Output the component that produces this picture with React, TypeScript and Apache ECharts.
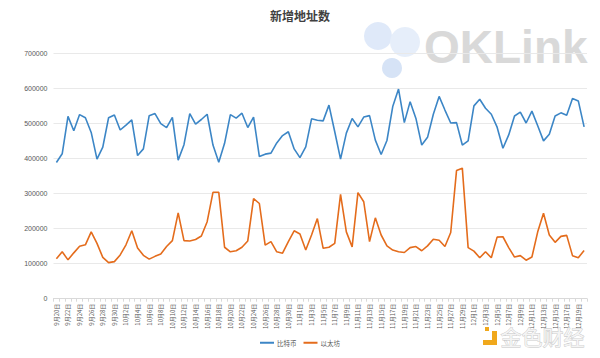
import React, { useEffect, useRef } from "react";
import * as echarts from "echarts";

const titleText = "新增地址数";
const seriesNames = ["比特币", "以太坊"];
const startMonth = 9;
const startDay = 20;
const dayCount = 92;

const btcValues = [
  389000, 414000, 521000, 480000, 526000, 517000, 475000, 399000, 433000, 517000,
  525000, 482000, 496000, 511000, 409000, 428000, 523000, 529000, 500000, 489000,
  518000, 396000, 440000, 529000, 499000, 512000, 527000, 439000, 390000, 444000,
  526000, 516000, 530000, 489000, 519000, 406000, 413000, 416000, 445000, 466000,
  477000, 428000, 403000, 434000, 514000, 510000, 508000, 553000, 477000, 399000,
  473000, 515000, 491000, 519000, 523000, 453000, 412000, 452000, 549000, 599000,
  503000, 563000, 515000, 439000, 461000, 527000, 578000, 539000, 502000, 503000,
  439000, 451000, 551000, 570000, 544000, 527000, 490000, 430000, 468000, 522000,
  533000, 502000, 536000, 494000, 451000, 470000, 522000, 531000, 524000, 572000,
  565000, 491000,
];

const ethValues = [
  114000, 134000, 111000, 131000, 150000, 154000, 191000, 158000, 118000, 103000,
  106000, 125000, 154000, 194000, 145000, 124000, 113000, 121000, 128000, 149000,
  166000, 245000, 166000, 165000, 169000, 179000, 220000, 304000, 304000, 147000,
  134000, 137000, 147000, 165000, 286000, 272000, 153000, 163000, 134000, 130000,
  163000, 194000, 185000, 139000, 182000, 229000, 144000, 147000, 158000, 298000,
  191000, 148000, 303000, 277000, 163000, 231000, 182000, 151000, 139000, 134000,
  132000, 146000, 149000, 137000, 151000, 170000, 167000, 149000, 189000, 366000,
  373000, 146000, 136000, 117000, 134000, 117000, 176000, 177000, 146000, 119000,
  123000, 110000, 119000, 191000, 244000, 182000, 161000, 178000, 181000, 123000,
  117000, 138000,
];

const yTicks = [0, 100000, 200000, 300000, 400000, 500000, 600000, 700000];

function buildDates(): string[] {
  const out: string[] = [];
  const d = new Date(2017, startMonth - 1, startDay);
  for (let i = 0; i < dayCount; i++) {
    out.push(`${d.getMonth() + 1}月${d.getDate()}日`);
    d.setDate(d.getDate() + 1);
  }
  return out;
}
const categories = buildDates();

const FONT = "'Liberation Sans', 'Noto Sans CJK SC', sans-serif";

export default function App() {
  const ref = useRef<HTMLDivElement>(null);
  useEffect(() => {
    if (!ref.current) return;
    const chart = echarts.init(ref.current, null, { renderer: "svg" });
    chart.setOption({
      animation: false,
      backgroundColor: "#ffffff",
      textStyle: { fontFamily: FONT },
      title: {
        text: titleText,
        left: "center",
        top: 4,
        textStyle: { fontSize: 12, fontWeight: "bold", color: "#404040", fontFamily: "'Noto Sans CJK SC', sans-serif" },
      },
      graphic: [
        { type: "circle", shape: { cx: 378, cy: 36, r: 14 }, style: { fill: "#dfe9f9" }, z: 0 },
        { type: "circle", shape: { cx: 405, cy: 42, r: 15 }, style: { fill: "#e6eefa" }, z: 0 },
        { type: "circle", shape: { cx: 392, cy: 68, r: 10 }, style: { fill: "#d6e3f6" }, z: 0 },
        {
          type: "text",
          left: 424,
          top: 24,
          z: 0,
          style: { text: "OKLink", fontSize: 46, fontWeight: "bold", fill: "#d9d9d9", fontFamily: "'Liberation Sans', sans-serif" },
        },
        { type: "rect", shape: { x: 483, y: 331, width: 14, height: 14 }, style: { fill: "#f0a81c" }, z: 10 },
        { type: "rect", shape: { x: 483, y: 331, width: 9, height: 9 }, style: { fill: "#ffffff" }, z: 11 },
        { type: "rect", shape: { x: 485, y: 327, width: 4, height: 4 }, style: { fill: "#f0a81c" }, z: 11 },
        {
          type: "text",
          left: 500,
          top: 325,
          z: 10,
          style: {
            text: "金色财经",
            fontSize: 21,
            fill: "#f4f4f4",
            stroke: "#c4c4c4",
            lineWidth: 0.8,
            fontFamily: "'Noto Sans CJK SC', sans-serif",
          },
        },
      ],
      legend: {
        bottom: 7,
        left: "center",
        itemWidth: 14,
        itemHeight: 2,
        itemGap: 7,
        icon: "rect",
        textStyle: { fontSize: 6.5, color: "#595959", fontFamily: "'Noto Sans CJK SC', sans-serif", padding: [0, 0, 0, -2] },
        data: seriesNames,
      },
      grid: { left: 53.5, right: 13, top: 53.7, bottom: 59.3 },
      xAxis: {
        type: "category",
        data: categories,
        boundaryGap: true,
        axisLine: { lineStyle: { color: "#d9d9d9" } },
        axisTick: { show: true, interval: 0, length: 3, lineStyle: { color: "#d9d9d9" } },
        axisLabel: { rotate: 90, interval: 1, fontSize: 6, color: "#595959", margin: 5, fontFamily: "'Noto Sans CJK SC', sans-serif" },
      },
      yAxis: {
        type: "value",
        min: yTicks[0],
        max: yTicks[yTicks.length - 1],
        interval: 100000,
        axisLine: { show: false },
        axisTick: { show: false },
        axisLabel: { fontSize: 7, color: "#595959", margin: 6, formatter: (v: number) => String(v) },
        splitLine: { lineStyle: { color: "#e9e9e9", width: 1 } },
      },
      series: [
        {
          name: seriesNames[0],
          type: "line",
          data: btcValues,
          symbol: "none",
          lineStyle: { color: "#3c86c6", width: 1.6 },
          itemStyle: { color: "#3c86c6" },
          z: 5,
        },
        {
          name: seriesNames[1],
          type: "line",
          data: ethValues,
          symbol: "none",
          lineStyle: { color: "#e46c1c", width: 1.6 },
          itemStyle: { color: "#e46c1c" },
          z: 5,
        },
      ],
    });
    return () => chart.dispose();
  }, []);
  return <div ref={ref} style={{ width: 600, height: 358, position: "absolute", left: 0, top: 0 }} />;
}
